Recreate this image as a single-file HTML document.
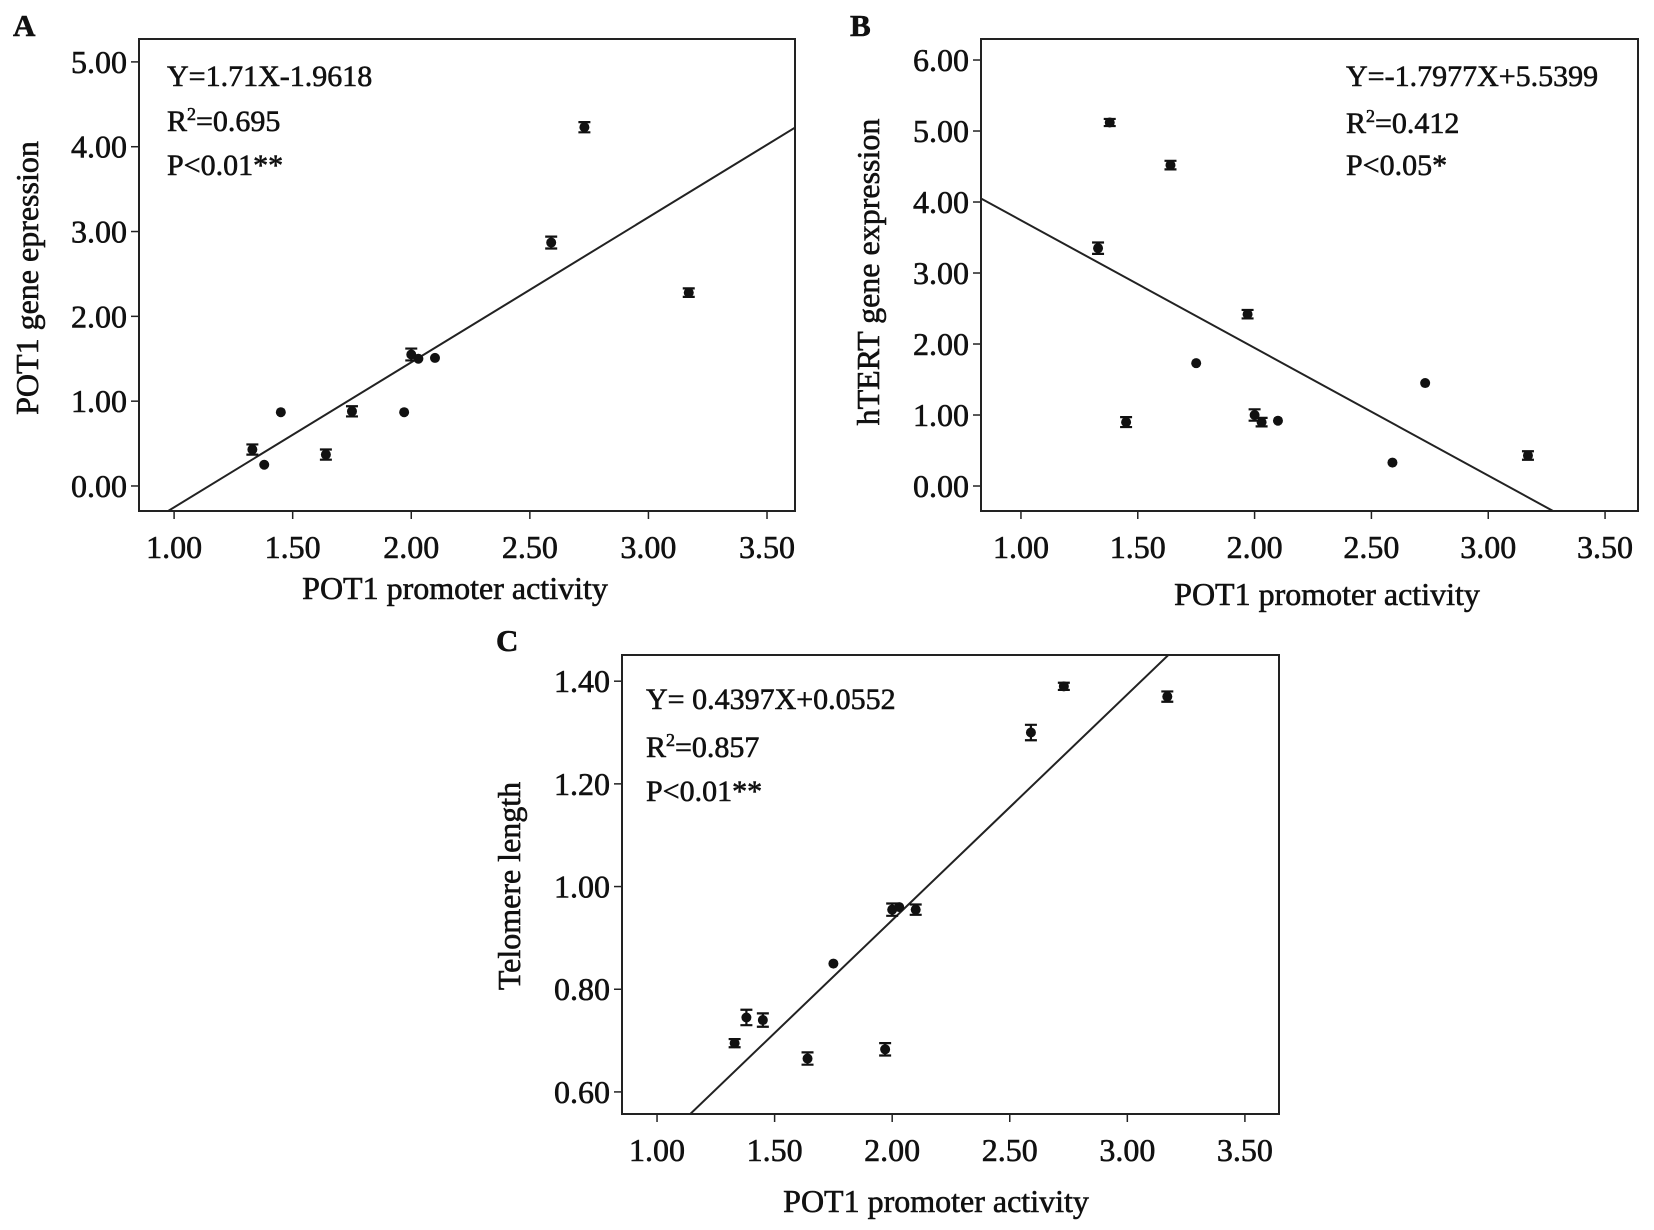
<!DOCTYPE html>
<html><head><meta charset="utf-8"><style>
html,body{margin:0;padding:0;background:#fff;}
svg{display:block;font-family:"Liberation Serif",serif;}
svg text{stroke:#111;stroke-width:0.6px;}
</style></head><body>
<svg id="fig" width="1654" height="1230" xmlns="http://www.w3.org/2000/svg"></svg>
<script>
const xValues = [1.33,1.38,1.45,1.64,1.75,1.97,2.00,2.03,2.10,2.59,2.73,3.17];
const potExpr = [0.43,0.25,0.87,0.37,0.88,0.87,1.55,1.50,1.51,2.87,4.23,2.28];
const potErr  = [0.06,0,0,0.06,0.06,0,0.07,0,0,0.07,0.06,0.05];
const htertExpr = [3.35,5.12,0.90,4.52,1.73,2.42,1.00,0.90,0.92,0.33,1.45,0.43];
const htertErr  = [0.08,0.05,0.07,0.06,0,0.06,0.08,0.06,0,0,0,0.06];
const teloLen = [0.695,0.745,0.740,0.665,0.850,0.683,0.955,0.960,0.955,1.300,1.390,1.370];
const teloErr = [0.008,0.015,0.013,0.012,0,0.012,0.012,0,0.010,0.015,0.007,0.010];
const xTicks = [1.00,1.50,2.00,2.50,3.00,3.50];
const yTicksA = [0,1,2,3,4,5];
const yTicksB = [0,1,2,3,4,5,6];
const yTicksC = [0.6,0.8,1.0,1.2,1.4];
const fitA = [1.71,-1.9618];
const fitB = [-1.7977,5.5399];
const fitC = [0.4397,0.0552];

const NS="http://www.w3.org/2000/svg";
const svg=document.getElementById('fig');
function mk(tag,attrs,parent,text){const e=document.createElementNS(NS,tag);for(const k in attrs)e.setAttribute(k,attrs[k]);if(text!==undefined)e.textContent=text;(parent||svg).appendChild(e);return e;}

function panel(cfg){
  const g=mk('g',{});
  
  
  const {L,R,T,B,x0,x1,y0,y1}=cfg;
  const sx=v=>L+(v-x0)/(x1-x0)*(R-L);
  const sy=v=>B-(v-y0)/(y1-y0)*(B-T);
  const clip='clip-'+cfg.id;
  const cp=mk('clipPath',{id:clip},g);mk('rect',{x:L,y:T,width:R-L,height:B-T},cp);
  const frame=mk('rect',{x:L,y:T,width:R-L,height:B-T,fill:'none',stroke:'#222','stroke-width':2},g);
  
  
  xTicks.forEach(t=>{const x=sx(t);
    mk('line',{x1:x,x2:x,y1:B,y2:B+8,stroke:'#222','stroke-width':1.5},g);
    const tl=mk('text',{x:x,y:B+47,'font-size':32,'text-anchor':'middle',fill:'#111'},g,t.toFixed(2));
    
    
  });
  cfg.yTicks.forEach(t=>{const y=sy(t);
    mk('line',{x1:L-8,x2:L,y1:y,y2:y,stroke:'#222','stroke-width':1.5},g);
    const tl=mk('text',{x:L-12,y:y+11,'font-size':32,'text-anchor':'end',fill:'#111'},g,t.toFixed(2));
    
    
  });
  const ln=mk('line',{x1:sx(x0),y1:sy(cfg.fit[0]*x0+cfg.fit[1]),x2:sx(x1),y2:sy(cfg.fit[0]*x1+cfg.fit[1]),stroke:'#222','stroke-width':2,'clip-path':'url(#'+clip+')'},g);
  
  
  xValues.forEach((xv,i)=>{
    const cx=sx(xv),cy=sy(cfg.ys[i]),e=cfg.err[i];
    if(e>0){const ya=sy(cfg.ys[i]+e),yb=sy(cfg.ys[i]-e);
      const eb=mk('path',{d:`M${cx-6},${ya}H${cx+6}M${cx},${ya}V${yb}M${cx-6},${yb}H${cx+6}`,stroke:'#111','stroke-width':2.2,fill:'none'},g);
      
      
    }
    const p=mk('circle',{cx:cx,cy:cy,r:5,fill:'#111'},g);
    
    
  });
  cfg.ann.forEach((a,i)=>{
    const t=mk('text',{x:cfg.annX,y:cfg.annY[i],'font-size':30,fill:'#111'},g);
    
    
    if(i===1){t.textContent='R';mk('tspan',{'font-size':18,dy:-11},t,'2');mk('tspan',{dy:11},t,a);}
    else t.textContent=a;
  });
  const xt=mk('text',{x:cfg.xtX,y:cfg.xtY,'font-size':32,'text-anchor':'middle',fill:'#111'},g,'POT1 promoter activity');
  
  
  const yt=mk('text',{x:0,y:0,'font-size':32,'text-anchor':'middle',fill:'#111',transform:`translate(${cfg.ytX},${cfg.ytY}) rotate(-90)`},g,cfg.yTitle);
  
  
  const lt=mk('text',{x:cfg.lx,y:cfg.ly,'font-size':31,'font-weight':'bold',fill:'#111'},g,cfg.id);
  
  
}

panel({id:'A',L:139,R:795,T:39,B:511,x0:0.852,x1:3.618,y0:-0.295,y1:5.27,yTicks:yTicksA,ys:potExpr,err:potErr,fit:fitA,
  ann:['Y=1.71X-1.9618','=0.695','P<0.01**'],annX:167,annY:[86,131,175],xtX:455,xtY:599,ytX:38,ytY:278,yTitle:'POT1 gene epression',lx:13,ly:36});
panel({id:'B',L:981,R:1638,T:39,B:511,x0:0.829,x1:3.641,y0:-0.352,y1:6.296,yTicks:yTicksB,ys:htertExpr,err:htertErr,fit:fitB,
  ann:['Y=-1.7977X+5.5399','=0.412','P<0.05*'],annX:1346,annY:[86,133,175],xtX:1327,xtY:605,ytX:879,ytY:272,yTitle:'hTERT gene expression',lx:850,ly:36});
panel({id:'C',L:622,R:1279,T:655,B:1114,x0:0.851,x1:3.645,y0:0.557,y1:1.451,yTicks:yTicksC,ys:teloLen,err:teloErr,fit:fitC,
  ann:['Y= 0.4397X+0.0552','=0.857','P<0.01**'],annX:646,annY:[709,757,801],xtX:936,xtY:1212,ytX:520,ytY:886,yTitle:'Telomere length',lx:496,ly:651});
</script>
</body></html>
